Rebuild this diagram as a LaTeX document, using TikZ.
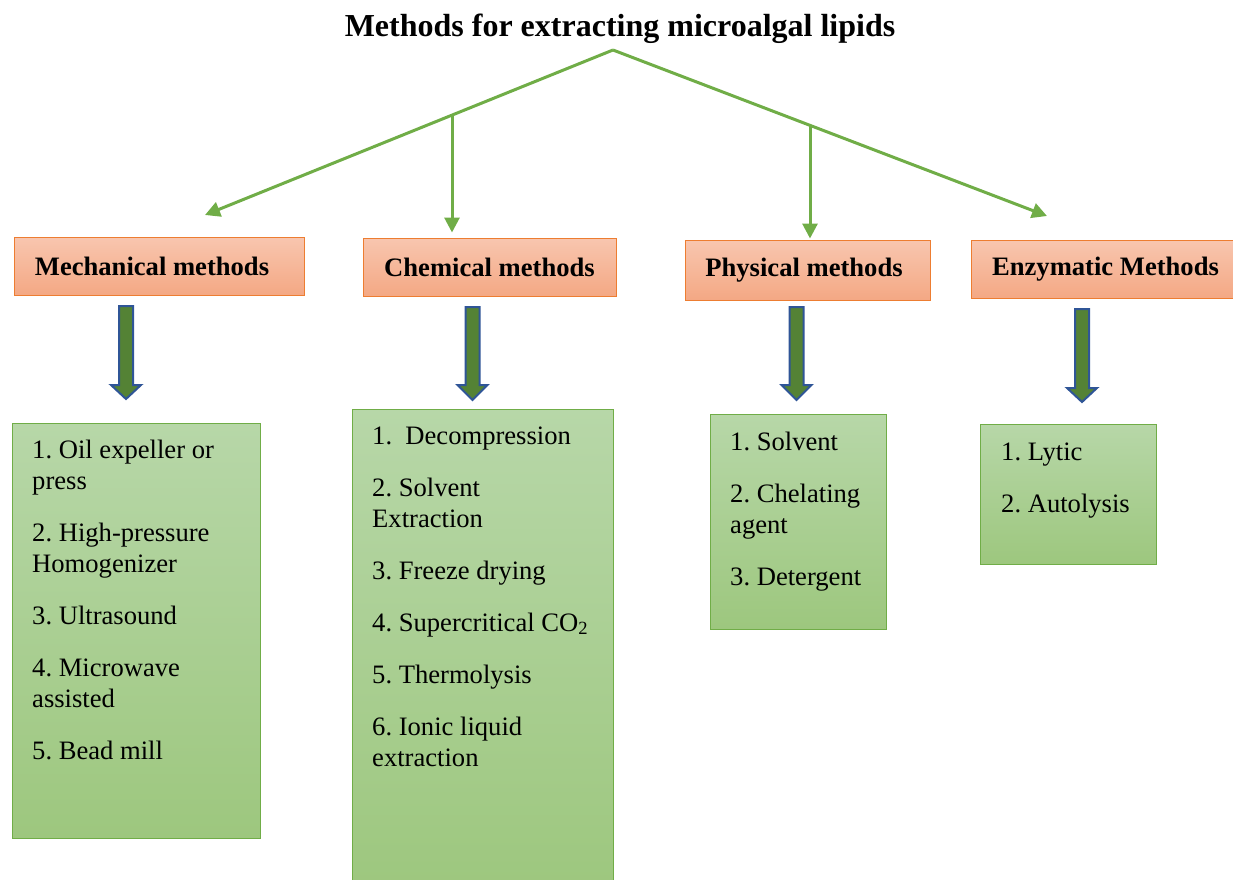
\documentclass[tikz,border=0pt]{standalone}
\usepackage{fontspec}
\setmainfont{Liberation Serif}
\usetikzlibrary{arrows.meta}
\frenchspacing
\definecolor{lnGreen}{RGB}{112,173,71}
\definecolor{hdrTop}{RGB}{248,198,175}
\definecolor{hdrBot}{RGB}{244,168,132}
\definecolor{hdrLine}{RGB}{237,125,49}
\definecolor{boxTop}{RGB}{183,215,168}
\definecolor{boxBot}{RGB}{157,199,126}
\definecolor{arrFill}{RGB}{84,130,53}
\definecolor{arrLine}{RGB}{47,85,151}
\newcommand{\blockarr}[5]{%
  \draw[barrow] (#2-7,#3) -- (#2+7,#3) -- (#2+7,#4) -- (#2+15,#4) -- (#2,#5) -- (#2-15,#4) -- (#2-7,#4) -- cycle;
  \coordinate (#1) at (#2,#5);}
\begin{document}
\begin{tikzpicture}[x=1pt,y=-1pt,
  conn/.style={draw=lnGreen, line width=3pt, -{Triangle[length=15pt,width=15pt]}},
  hdr/.style={draw=hdrLine, line width=1pt, top color=hdrTop, bottom color=hdrBot, inner sep=0pt,
    font=\fontsize{26.6}{30}\selectfont\bfseries},
  lbox/.style={draw=lnGreen, line width=1pt, top color=boxTop, bottom color=boxBot, inner sep=0pt},
  ltext/.style={anchor=base west, align=left, inner sep=0pt, font=\fontsize{26.6}{31}\selectfont},
  barrow/.style={draw=arrLine, fill=arrFill, line width=2pt, line join=miter}]
\useasboundingbox (0,0) rectangle (1233,879);
% title
\node[font=\fontsize{32}{36}\selectfont\bfseries] (title) at (620,29) {Methods for extracting microalgal lipids};
% headers
\node[hdr, minimum width=290pt, minimum height=58pt] (mech) at (159,266) {Mechanical methods\rule{14pt}{0pt}};
\node[hdr, minimum width=253pt, minimum height=58pt] (chem) at (489.5,267) {Chemical methods};
\node[hdr, minimum width=245pt, minimum height=60pt] (phys) at (807.5,270) {Physical methods\rule{7pt}{0pt}};
\node[hdr, minimum width=262pt, minimum height=58pt] (enz) at (1102,269) {\hspace{7pt}Enzymatic Methods};
% tree connectors
\coordinate (apex) at (613,50);
\coordinate (tipL) at (205,215);
\coordinate (tipR) at (1047,216);
\coordinate (bL) at (452,115);
\coordinate (bR) at (810,125);
\draw[conn] (apex) -- (tipL);
\draw[conn] (apex) -- (tipR);
\draw[conn, shorten >=5pt] (bL) -- (bL |- chem.north);
\draw[conn, shorten >=1pt] (bR) -- (bR |- phys.north);
% list boxes
\node[lbox, minimum width=248pt, minimum height=415pt] (mechbox) at (136,630.5) {};
\node[lbox, minimum width=261pt, minimum height=480pt] (chembox) at (482.5,649) {};
\node[lbox, minimum width=176pt, minimum height=215pt] (physbox) at (798,521.5) {};
\node[lbox, minimum width=176pt, minimum height=140pt] (enzbox) at (1068,494) {};
% block arrows
\blockarr{am}{126}{306}{385}{399}
\blockarr{ac}{472.5}{307}{385}{400}
\blockarr{ap}{796.5}{307}{385}{400}
\blockarr{ae}{1082}{309}{388}{402}
% list texts (anchored at the baseline of the last line)
\node[ltext] (mechtext) at (32,759) {1. Oil expeller or\\press\\[21pt]2. High-pressure\\Homogenizer\\[21pt]3. Ultrasound\\[21pt]4. Microwave\\assisted\\[21pt]5. Bead mill};
\node[ltext] (chemtext) at (372,766) {1.\ \ Decompression\\[21pt]2. Solvent\\Extraction\\[21pt]3. Freeze drying\\[21pt]4. Supercritical CO\textsubscript{2}\\[21pt]5. Thermolysis\\[21pt]6. Ionic liquid\\extraction};
\node[ltext] (phystext) at (730,585) {1. Solvent\\[21pt]2. Chelating\\agent\\[21pt]3. Detergent};
\node[ltext] (enztext) at (1001,512) {1. Lytic\\[21pt]2. Autolysis};
\end{tikzpicture}
\end{document}
